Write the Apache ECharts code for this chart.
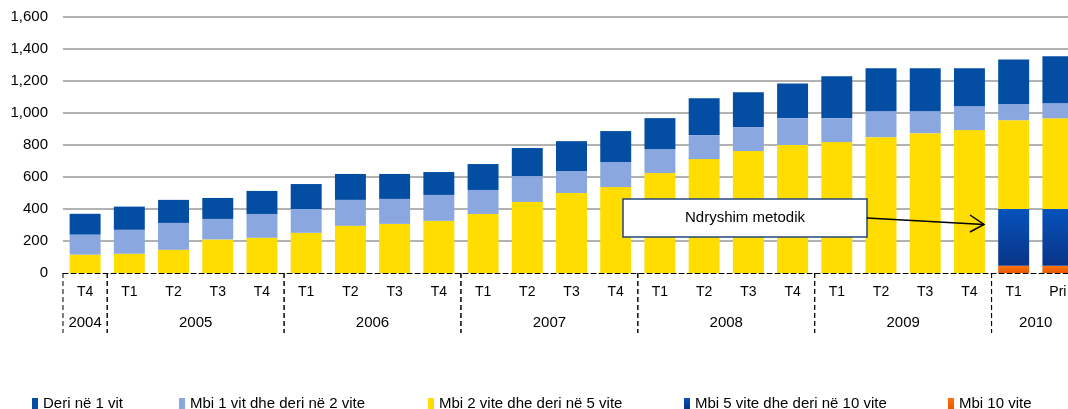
<!DOCTYPE html>
<html>
<head>
<meta charset="utf-8">
<script src="https://cdn.jsdelivr.net/npm/echarts@6/dist/echarts.min.js"></script>
<style>
  html, body { margin: 0; padding: 0; background: #fff; overflow: hidden; }
  #chart { width: 1080px; height: 409px; }
</style>
</head>
<body>
<div id="chart"></div>
<script>
// quarters along the axis, years grouped below them
const quarters = ['T4', 'T1', 'T2', 'T3', 'T4', 'T1', 'T2', 'T3', 'T4', 'T1', 'T2', 'T3', 'T4',
  'T1', 'T2', 'T3', 'T4', 'T1', 'T2', 'T3', 'T4', 'T1', 'Pri'];
const years = ['2004', '2005', '2006', '2007', '2008', '2009', '2010'];
const yearSpans = [1, 4, 4, 4, 4, 4, 2];

// values per maturity bucket (stacked bottom -> top: mbi10, mbi5_10, mbi2_5, mbi1_2, deri1)
const mbi10 = [0, 0, 0, 0, 0, 0, 0, 0, 0, 0, 0, 0, 0, 0, 0, 0, 0, 0, 0, 0, 0, 45, 45];
const mbi5_10 = [0, 0, 0, 0, 0, 0, 0, 0, 0, 0, 0, 0, 0, 0, 0, 0, 0, 0, 0, 0, 0, 355, 355];
const mbi2_5 = [115, 120, 145, 210, 220, 251, 295, 307, 326, 369, 444, 500, 537,
  625, 712, 762, 800, 818, 849, 874, 893, 555, 567];
const mbi1_2 = [125, 150, 168, 128, 149, 149, 162, 156, 162, 150, 162, 137, 156,
  149, 150, 150, 168, 150, 162, 137, 149, 99, 94];
const deri1 = [130, 145, 144, 131, 144, 156, 162, 156, 143, 162, 175, 187, 194,
  194, 230, 218, 217, 261, 268, 268, 237, 281, 293];

const names = {
  deri1: 'Deri në 1 vit',
  mbi1_2: 'Mbi 1 vit dhe deri në 2 vite',
  mbi2_5: 'Mbi 2 vite dhe deri në 5 vite',
  mbi5_10: 'Mbi 5 vite dhe deri në 10 vite',
  mbi10: 'Mbi 10 vite'
};

const FONT = 'Liberation Sans, Arial, sans-serif';

// year groups: [firstIndex, lastIndex, 0]
const yearData = [];
let start = 0;
yearSpans.forEach(function (n) {
  yearData.push([start, start + n - 1, 0]);
  start += n;
});

const chart = echarts.init(document.getElementById('chart'));

function legendItem(name, left) {
  return {
    data: [name],
    left: left,
    top: 396,
    padding: 0,
    itemWidth: 6,
    itemHeight: 11,
    icon: 'rect',
    selectedMode: false,
    textStyle: { fontSize: 15, fontFamily: FONT, color: '#000' }
  };
}

const dash = [5, 3];

const option = {
  animation: false,
  backgroundColor: '#fff',
  // plot runs a little past the right edge of the window, as in the original crop
  grid: { left: 63, right: 0, top: 17, bottom: 136 },
  legend: [
    legendItem(names.deri1, 32),
    legendItem(names.mbi1_2, 179),
    legendItem(names.mbi2_5, 428),
    legendItem(names.mbi5_10, 684),
    legendItem(names.mbi10, 948)
  ],
  xAxis: {
    type: 'category',
    data: quarters,
    axisLine: { lineStyle: { color: '#000', width: 1, type: dash } },
    axisTick: { length: 30, lineStyle: { color: '#000', width: 1, type: dash } },
    axisLabel: { color: '#000', fontSize: 14, fontFamily: FONT, margin: 12 }
  },
  yAxis: {
    type: 'value',
    min: 0,
    max: 1600,
    interval: 200,
    axisLine: { show: false },
    axisTick: { show: false },
    axisLabel: {
      color: '#000', fontSize: 15, fontFamily: FONT, margin: 15,
      formatter: function (v) { return v.toLocaleString('en-US'); }
    },
    splitLine: { showMinLine: false, lineStyle: { color: '#999', width: 1.5 } }
  },
  series: [
    {
      name: names.mbi10, type: 'bar', stack: 'a', barCategoryGap: '30%', data: mbi10,
      itemStyle: {
        color: new echarts.graphic.LinearGradient(0, 0, 0, 1, [
          { offset: 0, color: '#FF7010' }, { offset: 1, color: '#E85A00' }
        ])
      }
    },
    {
      name: names.mbi5_10, type: 'bar', stack: 'a', data: mbi5_10,
      itemStyle: {
        color: new echarts.graphic.LinearGradient(0, 0, 0, 1, [
          { offset: 0, color: '#0553BC' }, { offset: 1, color: '#0A3487' }
        ])
      }
    },
    { name: names.mbi2_5, type: 'bar', stack: 'a', data: mbi2_5, itemStyle: { color: '#FFDD00' } },
    { name: names.mbi1_2, type: 'bar', stack: 'a', data: mbi1_2, itemStyle: { color: '#8AA7DF' } },
    { name: names.deri1, type: 'bar', stack: 'a', data: deri1, itemStyle: { color: '#034EA2' } },
    {
      // year labels and long dashed dividers under the quarter labels
      type: 'custom',
      silent: true,
      data: yearData,
      encode: { x: 0, y: 2 },
      renderItem: function (params, api) {
        const w = api.size([1, 0])[0];
        const p0 = api.coord([api.value(0), 0]);
        const p1 = api.coord([api.value(1), 0]);
        const x0 = p0[0] - w / 2;
        const x1 = p1[0] + w / 2;
        const y0 = p0[1];
        const ls = { stroke: '#000', lineWidth: 1, lineDash: dash };
        return {
          type: 'group',
          children: [
            { type: 'line', shape: { x1: x0, y1: y0, x2: x0, y2: y0 + 60 }, style: ls },
            { type: 'line', shape: { x1: x1, y1: y0, x2: x1, y2: y0 + 60 }, style: ls },
            {
              type: 'text',
              style: {
                text: years[params.dataIndex], x: (x0 + x1) / 2, y: y0 + 50,
                align: 'center', verticalAlign: 'middle',
                fontSize: 15, fontFamily: FONT, fill: '#000'
              }
            }
          ]
        };
      }
    }
  ],
  graphic: [
    {
      type: 'group',
      z: 100,
      children: [
        {
          type: 'rect', z: 100, shape: { x: 623, y: 199, width: 244, height: 38 },
          style: { fill: '#fff', stroke: '#23477A', lineWidth: 1.5 }
        },
        {
          type: 'text', z: 101,
          style: {
            text: 'Ndryshim metodik', x: 745, y: 218, align: 'center', verticalAlign: 'middle',
            fontSize: 15, fontFamily: FONT, fill: '#000'
          }
        },
        {
          type: 'line', z: 101, shape: { x1: 867, y1: 218, x2: 984, y2: 224.5 },
          style: { stroke: '#000', lineWidth: 1.5 }
        },
        {
          type: 'polyline', z: 101, shape: { points: [[970, 215], [984, 224.5], [970, 232]] },
          style: { stroke: '#000', lineWidth: 1.5, fill: null }
        }
      ]
    }
  ]
};

chart.setOption(option);
</script>
</body>
</html>
